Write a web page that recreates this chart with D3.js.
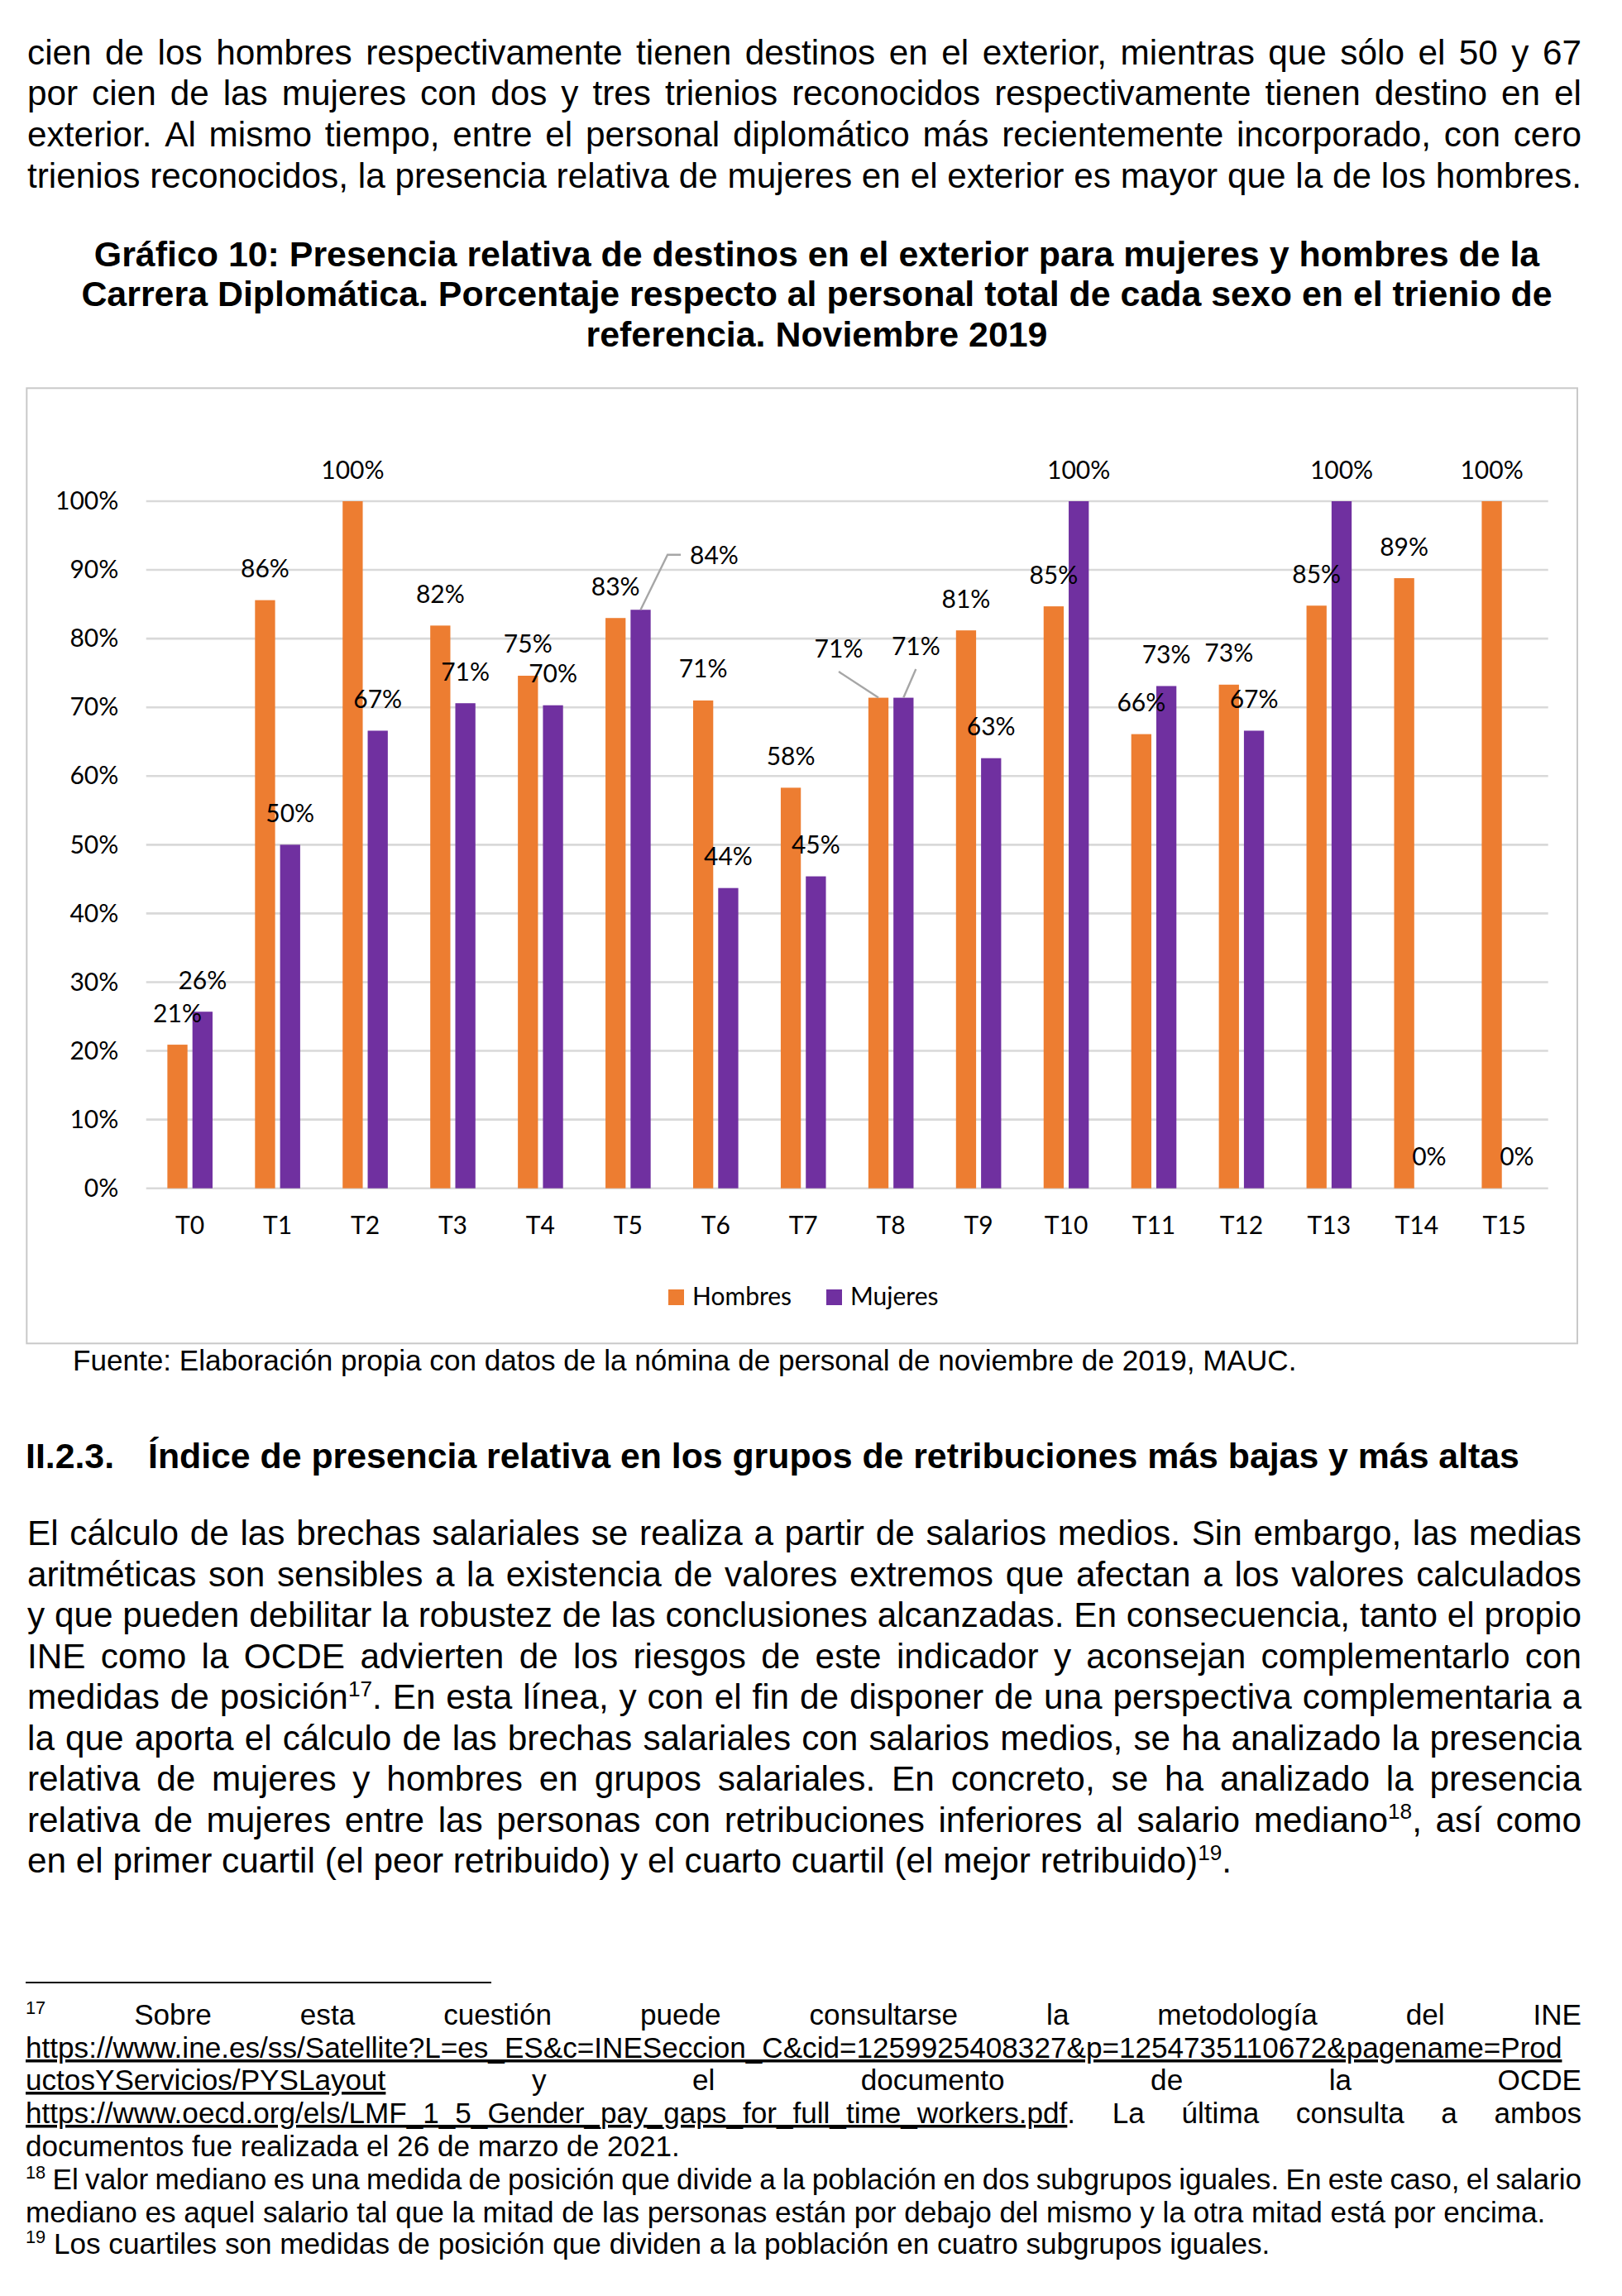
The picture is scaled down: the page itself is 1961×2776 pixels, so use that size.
<!DOCTYPE html>
<html>
<head>
<meta charset="utf-8">
<script src="https://cdn.jsdelivr.net/npm/d3@7"></script>
<style>
  body { margin: 0; background: #fff; }
  svg { display: block; }
</style>
</head>
<body>
<div class="container"></div>
<script>
// categories and series of the chart
var categorias = ["T0","T1","T2","T3","T4","T5","T6","T7","T8","T9","T10","T11","T12","T13","T14","T15"];
var series = ["Hombres", "Mujeres"];
var hombres = [20.9, 85.6, 100, 81.9, 74.6, 83.0, 71.0, 58.3, 71.4, 81.2, 84.7, 66.1, 73.3, 84.8, 88.8, 100];
var mujeres = [25.7, 50.0, 66.6, 70.6, 70.3, 84.2, 43.7, 45.4, 71.4, 62.6, 100, 73.1, 66.6, 100, 0, 0];
var ticksY = [0, 10, 20, 30, 40, 50, 60, 70, 80, 90, 100];
var colores = {"Hombres": "#ED7D31", "Mujeres": "#7030A0"};

// labels that were dragged away from their bar in the original
var etiquetasMovidas = [
  {cat: "T5", serie: "Mujeres", dx: 89, dy: -28, guia: "lado"},
  {cat: "T8", serie: "Hombres", dx: -48, dy: -21, guia: "abajo"},
  {cat: "T8", serie: "Mujeres", dx: 15, dy: -24, guia: "abajo"}
];

// page text
var parrafo1 = [
  "cien de los hombres respectivamente tienen destinos en el exterior, mientras que sólo el 50 y 67",
  "por cien de las mujeres con dos y tres trienios reconocidos respectivamente tienen destino en el",
  "exterior. Al mismo tiempo, entre el personal diplomático más recientemente incorporado, con cero",
  "trienios reconocidos, la presencia relativa de mujeres en el exterior es mayor que la de los hombres."
];
var titulo = [
  "Gráfico 10: Presencia relativa de destinos en el exterior para mujeres y hombres de la",
  "Carrera Diplomática. Porcentaje respecto al personal total de cada sexo en el trienio de",
  "referencia. Noviembre 2019"
];
var fuente = "Fuente: Elaboración propia con datos de la nómina de personal de noviembre de 2019, MAUC.";
var apartado = ["II.2.3.", "Índice de presencia relativa en los grupos de retribuciones más bajas y más altas"];
var parrafo2 = [
  "El cálculo de las brechas salariales se realiza a partir de salarios medios. Sin embargo, las medias",
  "aritméticas son sensibles a la existencia de valores extremos que afectan a los valores calculados",
  "y que pueden debilitar la robustez de las conclusiones alcanzadas. En consecuencia, tanto el propio",
  "INE como la OCDE advierten de los riesgos de este indicador y aconsejan complementarlo con",
  "medidas de posición^{17}. En esta línea, y con el fin de disponer de una perspectiva complementaria a",
  "la que aporta el cálculo de las brechas salariales con salarios medios, se ha analizado la presencia",
  "relativa de mujeres y hombres en grupos salariales. En concreto, se ha analizado la presencia",
  "relativa de mujeres entre las personas con retribuciones inferiores al salario mediano^{18}, así como",
  "en el primer cuartil (el peor retribuido) y el cuarto cuartil (el mejor retribuido)^{19}."
];
var notas = [
  {t: "^{17} Sobre esta cuestión puede consultarse la metodología del INE", j: true},
  {t: "~{https://www.ine.es/ss/Satellite?L=es_ES&c=INESeccion_C&cid=1259925408327&p=1254735110672&pagename=Prod}", j: false},
  {t: "~{uctosYServicios/PYSLayout} y el documento de la OCDE", j: true},
  {t: "~{https://www.oecd.org/els/LMF_1_5_Gender_pay_gaps_for_full_time_workers.pdf}. La última consulta a ambos", j: true},
  {t: "documentos fue realizada el 26 de marzo de 2021.", j: false},
  {t: "^{18} El valor mediano es una medida de posición que divide a la población en dos subgrupos iguales. En este caso, el salario", j: true},
  {t: "mediano es aquel salario tal que la mitad de las personas están por debajo del mismo y la otra mitad está por encima.", j: false},
  {t: "^{19} Los cuartiles son medidas de posición que dividen a la población en cuatro subgrupos iguales.", j: false}
];

var SANS = "'Liberation Sans', Arial, sans-serif";
var CHART = "Lato, 'Open Sans', sans-serif";

var svg = d3.select(".container").append("svg")
    .attr("width", 1961)
    .attr("height", 2776);

// split "^{..}" (superscript) and "~{..}" (underline) marks
function segmentos(s) {
  var out = [], re = /(\^\{[^}]*\}|~\{[^}]*\})/g, last = 0, m;
  while ((m = re.exec(s))) {
    if (m.index > last) out.push({t: s.slice(last, m.index)});
    var inner = m[0].slice(2, -1);
    out.push(m[0][0] == "^" ? {t: inner, sup: true} : {t: inner, u: true});
    last = re.lastIndex;
  }
  if (last < s.length) out.push({t: s.slice(last)});
  return out;
}

function escribir(t, s, size) {
  var subir = 0;
  segmentos(s).forEach(function(seg) {
    var ts = t.append("tspan").text(seg.t);
    if (seg.sup) {
      subir = size * 0.36;
      ts.attr("font-size", size * 0.62).attr("dy", -subir);
    } else if (subir) {
      ts.attr("dy", subir);
      subir = 0;
    }
    if (seg.u) ts.attr("text-decoration", "underline");
  });
}

function texto(g, s, x, y, size, weight, anchor) {
  var t = g.append("text")
      .attr("x", x).attr("y", y)
      .attr("font-family", SANS)
      .attr("font-size", size)
      .attr("font-weight", weight || "normal")
      .attr("text-anchor", anchor || "start")
      .attr("fill", "#000");
  escribir(t, s, size);
  return t;
}

function medir(s, size, weight) {
  var t = texto(svg, s, 0, -100, size, weight);
  var w = t.node().getComputedTextLength();
  t.remove();
  return w;
}

// font size that makes a line as wide as in the picture
function ajustar(s, ancho, weight) {
  return 100 * ancho / medir(s, 100, weight);
}

function justificada(g, s, x0, x1, y, size, weight) {
  var palabras = s.split(" ");
  var nodos = palabras.map(function(p) { return texto(g, p, 0, y, size, weight); });
  var anchos = nodos.map(function(n) { return n.node().getComputedTextLength(); });
  var hueco = (x1 - x0 - d3.sum(anchos)) / (palabras.length - 1);
  var x = x0;
  nodos.forEach(function(n, i) { n.attr("x", x); x += anchos[i] + hueco; });
}

var fsCuerpo = ajustar(parrafo1[3], 1879);
var fsTitulo = ajustar(titulo[0], 1748, "bold");
var fsFuente = ajustar(fuente, 1480);
var fsApartado = ajustar(apartado[1], 1658, "bold");
var fsNota = ajustar(notas[6].t, 1838);

var pagina = svg.append("g");

// first paragraph
parrafo1.forEach(function(l, i) {
  justificada(pagina, l, 33, 1912, 77.7 + i * 49.7, fsCuerpo);
});

// chart title
titulo.forEach(function(l, i) {
  texto(pagina, l, 987.5, 321.7 + i * 48.5, fsTitulo, "bold", "middle");
});

// ---------------- chart ----------------
var caja = {left: 32.3, top: 469.3, right: 1907, bottom: 1624.3};
svg.append("rect")
    .attr("x", caja.left).attr("y", caja.top)
    .attr("width", caja.right - caja.left)
    .attr("height", caja.bottom - caja.top)
    .attr("fill", "#fff")
    .attr("stroke", "#C9C9C9")
    .attr("stroke-width", 2);

var x = d3.scaleBand()
    .domain(categorias)
    .range([176.7, 1871.7]);

var xSerie = d3.scaleBand()
    .domain(series)
    .range([0, 54.6])
    .paddingInner(0.198);

var y = d3.scaleLinear()
    .domain([0, 100])
    .range([1436.7, 606]);

var grafico = svg.append("g");

// gridlines
grafico.selectAll(".grid")
    .data(ticksY)
  .enter().append("line")
    .attr("class", "grid")
    .attr("x1", x.range()[0])
    .attr("x2", x.range()[1])
    .attr("y1", function(d) { return y(d); })
    .attr("y2", function(d) { return y(d); })
    .attr("stroke", "#D9D9D9")
    .attr("stroke-width", 2.6);

// y axis labels
grafico.selectAll(".ytick")
    .data(ticksY)
  .enter().append("text")
    .attr("class", "ytick")
    .attr("x", 143.3)
    .attr("y", function(d) { return y(d); })
    .attr("dy", "0.34em")
    .attr("text-anchor", "end")
    .attr("font-family", CHART)
    .attr("font-size", 30)
    .attr("fill", "#000")
    .text(function(d) { return d + "%"; });

// x axis labels
grafico.selectAll(".xtick")
    .data(categorias)
  .enter().append("text")
    .attr("class", "xtick")
    .attr("x", function(d) { return x(d) + x.bandwidth() / 2; })
    .attr("y", 1491.7)
    .attr("text-anchor", "middle")
    .attr("font-family", CHART)
    .attr("font-size", 30)
    .attr("fill", "#000")
    .text(function(d) { return d; });

var datos = [];
categorias.forEach(function(c, i) {
  datos.push({cat: c, serie: "Hombres", v: hombres[i]});
  datos.push({cat: c, serie: "Mujeres", v: mujeres[i]});
});

function centroBarra(d) {
  return x(d.cat) + x.bandwidth() / 2 - 27.3 + xSerie(d.serie) + xSerie.bandwidth() / 2;
}

// bars
grafico.selectAll(".bar")
    .data(datos)
  .enter().append("rect")
    .attr("class", "bar")
    .attr("x", function(d) { return centroBarra(d) - xSerie.bandwidth() / 2; })
    .attr("y", function(d) { return y(d.v); })
    .attr("width", xSerie.bandwidth())
    .attr("height", function(d) { return y(0) - y(d.v); })
    .attr("fill", function(d) { return colores[d.serie]; });

// data labels
datos.forEach(function(d) {
  var mov = etiquetasMovidas.filter(function(m) { return m.cat == d.cat && m.serie == d.serie; })[0];
  d.lx = centroBarra(d) + (mov ? mov.dx : 0);
  d.ly = y(d.v) - 27.5 + (mov ? mov.dy : 0);
  d.mov = mov;
});

var etiquetas = grafico.selectAll(".etiqueta")
    .data(datos)
  .enter().append("text")
    .attr("class", "etiqueta")
    .attr("x", function(d) { return d.lx; })
    .attr("y", function(d) { return d.ly; })
    .attr("text-anchor", "middle")
    .attr("font-family", CHART)
    .attr("font-size", 30)
    .attr("fill", "#000")
    .text(function(d) { return Math.round(d.v) + "%"; });

// leader lines for the moved labels
etiquetas.filter(function(d) { return d.mov; }).each(function(d) {
  var w = this.getComputedTextLength();
  var bx = centroBarra(d), by = y(d.v), pts;
  if (d.mov.guia == "lado") {
    var medio = d.ly - 11, fin = d.lx - w / 2 - 11;
    pts = [[bx, by], [fin - 16, medio], [fin, medio]];
  } else {
    pts = [[bx, by], [d.lx, d.ly + 17]];
  }
  grafico.insert("path", ".etiqueta")
      .attr("d", d3.line()(pts))
      .attr("fill", "none")
      .attr("stroke", "#A6A6A6")
      .attr("stroke-width", 2.4);
});

// legend
var leyenda = grafico.selectAll(".leyenda")
    .data(series)
  .enter().append("g")
    .attr("class", "leyenda")
    .attr("transform", function(d, i) { return "translate(" + (808 + i * 191) + ",1559)"; });
leyenda.append("rect")
    .attr("width", 19).attr("height", 19)
    .attr("fill", function(d) { return colores[d]; });
leyenda.append("text")
    .attr("x", 29).attr("y", 18.6)
    .attr("font-family", CHART)
    .attr("font-size", 30)
    .attr("fill", "#000")
    .text(function(d) { return d; });

// ---------------- text below the chart ----------------
texto(pagina, fuente, 88, 1657, fsFuente);

texto(pagina, apartado[0], 31, 1775, fsApartado, "bold");
texto(pagina, apartado[1], 179, 1775, fsApartado, "bold");

parrafo2.forEach(function(l, i) {
  var yy = 1868 + i * 49.5;
  if (i < parrafo2.length - 1) justificada(pagina, l, 33, 1912, yy, fsCuerpo);
  else texto(pagina, l, 33, yy, fsCuerpo);
});

// footnotes
pagina.append("line")
    .attr("x1", 31).attr("x2", 594)
    .attr("y1", 2397).attr("y2", 2397)
    .attr("stroke", "#000")
    .attr("stroke-width", 2);

var yNotas = [2448, 2488, 2527, 2567, 2607, 2647, 2687, 2725];
notas.forEach(function(n, i) {
  if (n.j) justificada(pagina, n.t, 31, 1912, yNotas[i], fsNota);
  else texto(pagina, n.t, 31, yNotas[i], fsNota);
});
</script>
</body>
</html>
